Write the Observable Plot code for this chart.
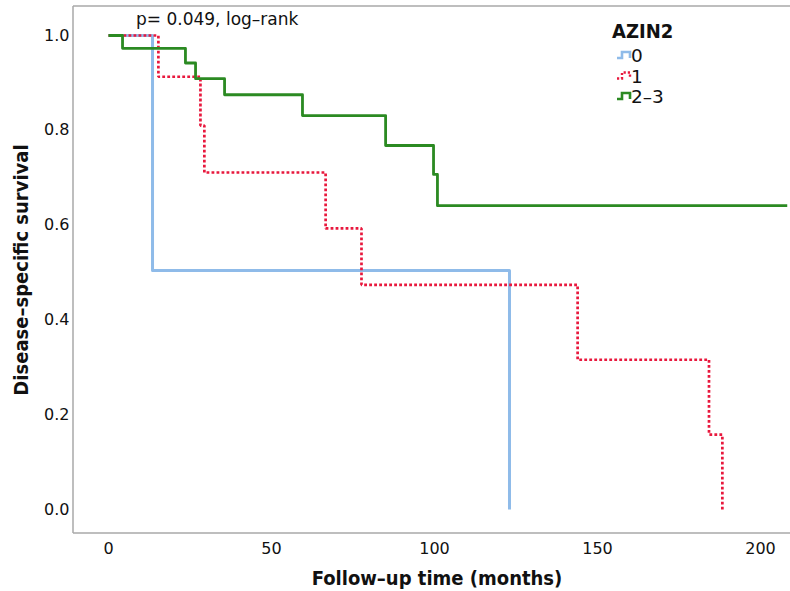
<!DOCTYPE html>
<html><head><meta charset="utf-8">
<script src="https://cdn.jsdelivr.net/npm/d3@7"></script>
<script src="https://cdn.jsdelivr.net/npm/@observablehq/plot@0.6"></script>
<style>body{margin:0;background:#fff}</style>
</head><body><div id="chart"></div>
<script>
const groups = ["0", "1", "2–3"];
const time0 = [0, 13.5, 123.0];
const surv0 = [1, 0.504, 0];
const time1 = [0, 15.3, 28.2, 29.4, 66.6, 77.6, 143.9, 184.2, 188.3];
const surv1 = [1, 0.913, 0.81, 0.711, 0.593, 0.474, 0.316, 0.158, 0];
const time2 = [0, 4.3, 23.6, 26.7, 35.6, 59.5, 85.0, 99.7, 100.9, 208.2];
const surv2 = [1, 0.973, 0.942, 0.909, 0.875, 0.831, 0.768, 0.707, 0.641, 0.641];
const xTicks = [0, 50, 100, 150, 200];
const yTicks = [0, 0.2, 0.4, 0.6, 0.8, 1.0];
const colors = ["#8fbbe9", "#e8183d", "#2b8a22"];

const toRows = (g, t, s) => t.map((v, i) => ({group: g, time: v, surv: s[i]}));
const rows0 = toRows(groups[0], time0, surv0);
const rows1 = toRows(groups[1], time1, surv1);
const rows2 = toRows(groups[2], time2, surv2);

const chart = Plot.plot({
  width: 790, height: 591,
  marginLeft: 73, marginRight: 0, marginTop: 6, marginBottom: 58,
  x: {domain: [-10.74, 209.2], ticks: xTicks, tickSize: 0, tickPadding: 9, label: null, tickFormat: d3.format("d")},
  y: {domain: [-0.0506, 1.0612], ticks: yTicks, tickSize: 0, tickPadding: 4, label: null, tickFormat: d3.format(".1f")},
  style: {fontFamily: "DejaVu Sans", fontSize: "16px", color: "#111", background: "#fff", overflow: "visible"},
  marks: [
    Plot.line(rows0, {x: "time", y: "surv", curve: "step-after", stroke: colors[0], strokeWidth: 3, strokeLinecap: "butt"}),
    Plot.line(rows1, {x: "time", y: "surv", curve: "step-after", stroke: colors[1], strokeWidth: 2.7, strokeDasharray: "2.8,2.2", strokeLinecap: "butt", strokeLinejoin: "miter"}),
    Plot.line(rows2, {x: "time", y: "surv", curve: "step-after", stroke: colors[2], strokeWidth: 2.8, strokeLinecap: "butt"})
  ]
});

const svg = d3.select(chart);
const xr = chart.scale("x").range, yr = chart.scale("y").range;
const L = Math.min(...xr), R = Math.max(...xr), T = Math.min(...yr), B = Math.max(...yr);
const frame = svg.insert("g", ":first-child").attr("stroke", "#a8a8a8").attr("stroke-width", 1.5);
frame.append("line").attr("x1", L).attr("x2", L).attr("y1", T).attr("y2", B);
frame.append("line").attr("x1", L).attr("x2", R).attr("y1", T).attr("y2", T);
frame.append("line").attr("x1", L).attr("x2", R).attr("y1", B).attr("y2", B);

svg.append("text").attr("x", 136).attr("y", 25).attr("text-anchor", "start").attr("font-size", 17).attr("fill", "#111")
  .attr("font-family", "DejaVu Sans").text("p= 0.049, log–rank");

svg.append("text").attr("x", 437).attr("y", 585).attr("text-anchor", "middle")
  .attr("font-size", 20).attr("font-weight", "bold").attr("fill", "#111")
  .attr("font-family", "DejaVu Sans Condensed, DejaVu Sans").text("Follow–up time (months)");
svg.append("text").attr("transform", "translate(28,270) rotate(-90)").attr("text-anchor", "middle")
  .attr("font-size", 20).attr("font-weight", "bold").attr("fill", "#111")
  .attr("font-family", "DejaVu Sans Condensed, DejaVu Sans").text("Disease–specific survival");

const leg = svg.append("g").attr("font-family", "DejaVu Sans").attr("fill", "#111").attr("text-anchor", "start");
leg.append("text").attr("x", 612).attr("y", 38).attr("font-size", 20).attr("font-weight", "bold")
  .attr("font-family", "DejaVu Sans Condensed, DejaVu Sans").text("AZIN2");
groups.forEach((g, i) => {
  const y0 = 58 + i * 20.5;
  leg.append("path").attr("d", `M617,${y0} H622 V${y0 - 6} H630 V${y0}`)
    .attr("fill", "none").attr("stroke", colors[i]).attr("stroke-width", i === 1 ? 2.4 : 2.6)
    .attr("stroke-dasharray", i === 1 ? "2.2,2" : null);
  leg.append("text").attr("x", 631).attr("y", y0 + 4).attr("font-size", 18.5).text(g);
});

document.getElementById("chart").appendChild(chart);
</script>
</body></html>
